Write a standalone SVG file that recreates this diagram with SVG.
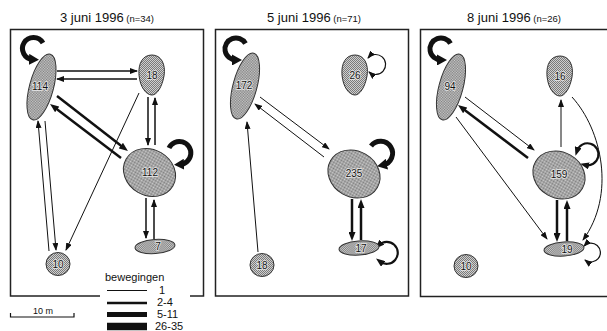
<svg xmlns="http://www.w3.org/2000/svg" xmlns:xlink="http://www.w3.org/1999/xlink" width="607" height="331" viewBox="0 0 607 331">
<style>
text{font-family:"Liberation Sans",Arial,sans-serif;fill:#111}
.title{font-size:13px}
.small{font-size:9.5px}
.lbl{font-size:10px;text-anchor:middle;paint-order:stroke;stroke:#e8e8e8;stroke-width:1.5px}
.panel{fill:#fff;stroke:#222;stroke-width:1.5}
.node{fill:url(#dots);stroke:#333;stroke-width:1}
.c{fill:none;stroke:#111}
.t1{stroke-width:1;marker-end:url(#at)}
.t15{stroke-width:1.5;marker-end:url(#at)}
.m{stroke-width:2.5;marker-end:url(#am)}
.loopT{stroke-width:5;marker-end:url(#ak)}
.loopM{stroke-width:2.2;marker-end:url(#am);marker-start:url(#am)}
.loopS{stroke-width:1.2;marker-end:url(#at);marker-start:url(#at)}
.leg{fill:none;stroke:#111}
.legt{font-size:11px}
</style>
<defs>
<pattern id="dots" width="2" height="2" patternUnits="userSpaceOnUse">
<rect width="2" height="2" fill="#cfcfcf"/>
<rect width="1" height="1" fill="#7a7a7a"/>
<rect x="1" y="1" width="1" height="1" fill="#7a7a7a"/>
</pattern>
<marker id="at" viewBox="0 0 8 6" refX="7" refY="3" markerWidth="8" markerHeight="6" markerUnits="userSpaceOnUse" orient="auto-start-reverse"><path d="M0,0 L8,3 L0,6 z" fill="#111"/></marker>
<marker id="am" viewBox="0 0 9 7" refX="4" refY="3.5" markerWidth="9" markerHeight="7" markerUnits="userSpaceOnUse" orient="auto-start-reverse"><path d="M0,0 L9,3.5 L0,7 z" fill="#111"/></marker>
<marker id="ak" viewBox="0 0 10 11" refX="4" refY="5.5" markerWidth="10" markerHeight="11" markerUnits="userSpaceOnUse" orient="auto"><path d="M0,0 L10,5.5 L0,11 z" fill="#111"/></marker>
<path id="egg" d="M0,-20 C9,-20 14,-11 12,1 C10,12 5,20 0,20 C-6,20 -12,12 -13,0 C-14,-12 -9,-20 0,-20 Z"/>
</defs>

<g id="panels">
<rect class="panel" x="10.5" y="29.5" width="193" height="266.5"/>
<rect class="panel" x="215.5" y="29.5" width="193" height="266.5"/>
<rect class="panel" x="420.5" y="29.5" width="192" height="267"/>
</g>

<g id="titles">
<text class="title" x="60" y="22">3 juni 1996<tspan class="small"> (n=34)</tspan></text>
<text class="title" x="267" y="22">5 juni 1996<tspan class="small"> (n=71)</tspan></text>
<text class="title" x="467" y="22">8 juni 1996<tspan class="small"> (n=26)</tspan></text>
</g>

<g id="connectors">
<!-- panel 1 -->
<path class="c t15" d="M57,71 L137,71"/>
<path class="c t15" d="M137,79 L57,79"/>
<path class="c m" d="M57,96 L124,148"/>
<path class="c m" d="M121,158 L54,107"/>
<path class="c t1" d="M139,93 L66,250"/>
<path class="c t15" d="M148,97 L148,145"/>
<path class="c t15" d="M155,145 L155,98"/>
<path class="c t1" d="M49,251 L38,121"/>
<path class="c t1" d="M45,121 L56,250"/>
<path class="c t15" d="M146,198 L146,238"/>
<path class="c t15" d="M154,239 L154,200"/>
<path class="c loopT" d="M43,43 A11,11 0 1 0 33,59.5"/>
<path class="c loopT" d="M169,148 A11.5,11.5 0 1 1 180,164.5"/>
<!-- panel 2 -->
<path class="c t1" d="M260,97 L329,149"/>
<path class="c t1" d="M324,157 L255,104"/>
<path class="c t1" d="M258,252 L247,122"/>
<path class="c m" d="M352,199 L352,236"/>
<path class="c m" d="M361,240 L361,204"/>
<path class="c loopT" d="M245.5,43.5 A11,11 0 1 0 236,60"/>
<path class="c loopT" d="M371,146 A12,12 0 1 1 383,165"/>
<path class="c loopS" d="M368,58 A10,10 0 1 1 369,72"/>
<path class="c loopM" d="M379,245 A11,11 0 1 1 380,261.5"/>
<!-- panel 3 -->
<path class="c t1" d="M465,97 L534,150"/>
<path class="c m" d="M528,158 L462,108"/>
<path class="c t1" d="M456,117 L547,239"/>
<path class="c t1" d="M561,147 L561,100"/>
<path class="c t1" d="M572,97 C602,130 616,195 583,240"/>
<path class="c m" d="M557,200 L557,237"/>
<path class="c m" d="M567,241 L567,205"/>
<path class="c loopT" d="M450.5,43.5 A11,11 0 1 0 441,60"/>
<path class="c loopM" d="M577,151 A11,11 0 1 1 585,165"/>
<path class="c loopS" d="M584,246 A9.5,9.5 0 1 1 585,260"/>
</g>

<g id="n114"><ellipse class="node" cx="41.5" cy="87" rx="12" ry="34" transform="rotate(15 41.5 87)"/><text class="lbl" x="40" y="90">114</text></g>
<g id="n18a"><use href="#egg" class="node" x="152" y="75"/><text class="lbl" x="152" y="79">18</text></g>
<g id="n112"><ellipse class="node" cx="149.5" cy="172.5" rx="27" ry="23" transform="rotate(30 149.5 172.5)"/><text class="lbl" x="150" y="176">112</text></g>
<g id="n7"><ellipse class="node" cx="155" cy="246.5" rx="20" ry="7" transform="rotate(-4 155 246.5)"/><text class="lbl" x="158" y="250">7</text></g>
<g id="n10a"><ellipse class="node" cx="58" cy="264" rx="12" ry="11.5"/><text class="lbl" x="58" y="268">10</text></g>

<g id="n172"><ellipse class="node" cx="245" cy="86" rx="12" ry="34" transform="rotate(15 245 86)"/><text class="lbl" x="244" y="89">172</text></g>
<g id="n26"><use href="#egg" class="node" x="355" y="75"/><text class="lbl" x="355" y="79">26</text></g>
<g id="n235"><ellipse class="node" cx="354" cy="174" rx="27" ry="23" transform="rotate(30 354 174)"/><text class="lbl" x="354" y="177">235</text></g>
<g id="n17"><ellipse class="node" cx="359" cy="248" rx="20" ry="7" transform="rotate(-4 359 248)"/><text class="lbl" x="361" y="252">17</text></g>
<g id="n18b"><ellipse class="node" cx="262" cy="265" rx="12" ry="11.5"/><text class="lbl" x="262" y="269">18</text></g>

<g id="n94"><ellipse class="node" cx="451" cy="87" rx="12" ry="34" transform="rotate(15 451 87)"/><text class="lbl" x="450" y="90">94</text></g>
<g id="n16"><use href="#egg" class="node" x="560" y="76"/><text class="lbl" x="560" y="80">16</text></g>
<g id="n159"><ellipse class="node" cx="559" cy="175" rx="27" ry="23" transform="rotate(30 559 175)"/><text class="lbl" x="559" y="178">159</text></g>
<g id="n19"><ellipse class="node" cx="564" cy="249" rx="20" ry="7" transform="rotate(-4 564 249)"/><text class="lbl" x="567" y="253">19</text></g>
<g id="n10b"><ellipse class="node" cx="466" cy="266" rx="12" ry="11.5"/><text class="lbl" x="466" y="270">10</text></g>

<g id="legend">
<rect x="100" y="268" width="90" height="63" fill="#fff"/>
<text class="legt" x="105" y="281">bewegingen</text>
<path class="leg" stroke-width="1" d="M107,290.5 H147"/>
<path class="leg" stroke-width="2.5" d="M107,303 H147"/>
<path class="leg" stroke-width="5" d="M107,314.5 H147"/>
<path class="leg" stroke-width="7.5" d="M107,326.5 H147"/>
<text class="legt" x="159" y="294">1</text>
<text class="legt" x="157" y="306">2-4</text>
<text class="legt" x="157" y="318">5-11</text>
<text class="legt" x="155" y="330">26-35</text>
</g>

<g id="scale">
<path class="leg" stroke-width="1.2" d="M10.5,313 V317 H74 V313"/>
<text x="33" y="314" font-size="9">10 m</text>
</g>
</svg>
